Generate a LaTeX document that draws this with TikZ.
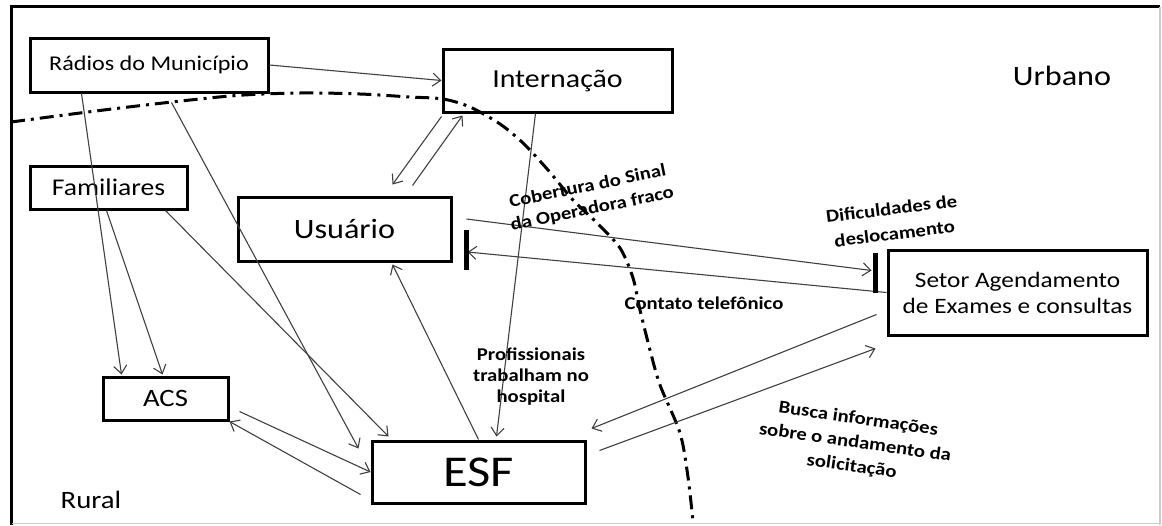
\documentclass[tikz,border=0pt]{standalone}
\usepackage{fontspec}
\setmainfont{Carlito}[FakeStretch=1.15]
\usepackage{tikz}
\usetikzlibrary{calc}
\usetikzlibrary{positioning}
\usetikzlibrary{arrows.meta}

\newcommand{\fsz}[2]{\fontsize{#1}{#2}\selectfont}

\tikzset{
  caixa/.style={draw=black, line width=3pt, inner sep=0pt, align=center},
  seta/.style={draw=black!75, line width=1.1pt, -{Straight Barb[length=8pt,width=13pt]}},
  barreira/.style={line width=5pt},
  limite/.style={line width=3pt, dash pattern=on 14pt off 6pt on 3pt off 6pt},
  rotulo/.style={font=\bfseries\fsz{18}{23}, align=center, inner sep=0pt},
}

\begin{document}
\begin{tikzpicture}[x=1pt,y=-1pt]
      \useasboundingbox (0,0) rectangle (1162,525);
      % moldura
      \draw[line width=3pt] (11.5,525) -- (11.5,6.5) -- (1160,6.5);
      \draw[black!20,line width=1.5pt] (1160,6.5) -- (1160,525);
      \draw[black!20,line width=1.5pt] (11.5,523.5) -- (1160,523.5);

      % limite urbano / rural
      \draw[limite] plot[smooth,tension=0.5] coordinates {(11,122) (120,108) (230,96) (300,93) (360,94) (410,97) (443,99) (470,107) (500,124) (523,143) (548,170) (573,200) (597,223) (620,248) (633,278) (640,310) (650,350) (660,385) (680,433) (688,477) (693,522)};

      \node[font=\fsz{28}{32}] (urbano) at (1062,76) {Urbano};
      \node[font=\fsz{25}{30}] (rural) at (91,500) {Rural};

      \node[caixa,minimum width=238pt,minimum height=54pt,font=\fsz{21}{25}] (radios) at (149,65) {Rádios do Município};
      \node[caixa,minimum width=157pt,minimum height=43pt,font=\fsz{24}{28}] (familiares) at (108.5,187.5) {Familiares};
      \node[caixa,minimum width=229pt,minimum height=63pt,font=\fsz{26}{30}] (internacao) at (557.5,80.5) {Internação};
      \node[caixa,minimum width=213pt,minimum height=64pt,font=\fsz{28}{32}] (usuario) at (344.5,229) {Usuário};
      \node[caixa,minimum width=259pt,minimum height=85pt,font=\fsz{22}{26}] (setor) at (1017.5,292.5) {Setor Agendamento\\de Exames e consultas};
      \node[caixa,minimum width=125pt,minimum height=43pt,font=\fsz{25}{29}] (acs) at (165.5,398.5) {ACS};
      \node[caixa,minimum width=213pt,minimum height=62pt,font=\fsz{44}{48}] (esf) at (478.5,472) {ESF};

      % setas
      \draw[seta] (radios.east) -- (internacao.west);
      \draw[seta] ($(radios.south west)+(53,0)$) -- ($(acs.north west)+(20,-1)$);
      \draw[seta] ($(familiares.south west)+(78,0)$) -- ($(acs.north west)+(61,-1)$);
      \draw[seta] ($(radios.south west)+(143,9)$) -- ($(esf.north west)+(-12,9)$);
      \draw[seta] ($(familiares.south west)+(137,0)$) -- ($(esf.north west)+(18,-3)$);
      \draw[seta] ($(acs.south east)+(10,-10)$) -- (esf.west);
      \draw[seta] ($(esf.south west)+(-10,-10)$) -- (acs.south east);
      \draw[seta] (esf.north) -- ($(usuario.south)+(48,2)$);
      \draw[seta] ($(internacao.south west)+(94,0)$) -- ($(esf.north)+(18,-3)$);
      \draw[seta] ($(internacao.south west)+(0,3)$) -- ($(usuario.north)+(48,-11)$);
      \draw[seta] ($(usuario.north)+(68,-10)$) -- ($(internacao.south west)+(21,2)$);
      \draw[seta] ($(usuario.east)+(14,-10)$) -- ($(setor.west)+(-15,-22)$);
      \draw[seta] (setor.west) -- ($(usuario.east)+(15,23)$);
      \draw[seta] ($(setor.west)+(-10,22)$) -- ($(esf.north east)+(5,-11)$);
      \draw[seta] ($(esf.north east)+(13,11)$) -- ($(setor.south west)+(-11,12)$);

      % barreiras
      \draw[barreira] ($(usuario.east)+(14,1)$) -- ($(usuario.east)+(14,41)$);
      \draw[barreira] ($(setor.west)+(-11,-40)$) -- ($(setor.west)+(-11,0)$);

      \node[rotulo,rotate=11.5] (cobertura) at (590,198) {Cobertura do Sinal\\da Operadora fraco};
      \node[rotulo,rotate=7,font=\bfseries\fsz{18}{25}] (dificuldades) at (893,221) {Dificuldades de\\deslocamento};
      \node[rotulo] (contato) at (704,303) {Contato telefônico};
      \node[rotulo,font=\bfseries\fsz{18}{21}] (profissionais) at (531,377) {Profissionais\\trabalham no\\hospital};
      \node[rotulo,rotate=-8,font=\bfseries\fsz{18}{24}] (busca) at (855,443) {Busca informações\\sobre o andamento da\\solicitação};
\end{tikzpicture}
\end{document}
